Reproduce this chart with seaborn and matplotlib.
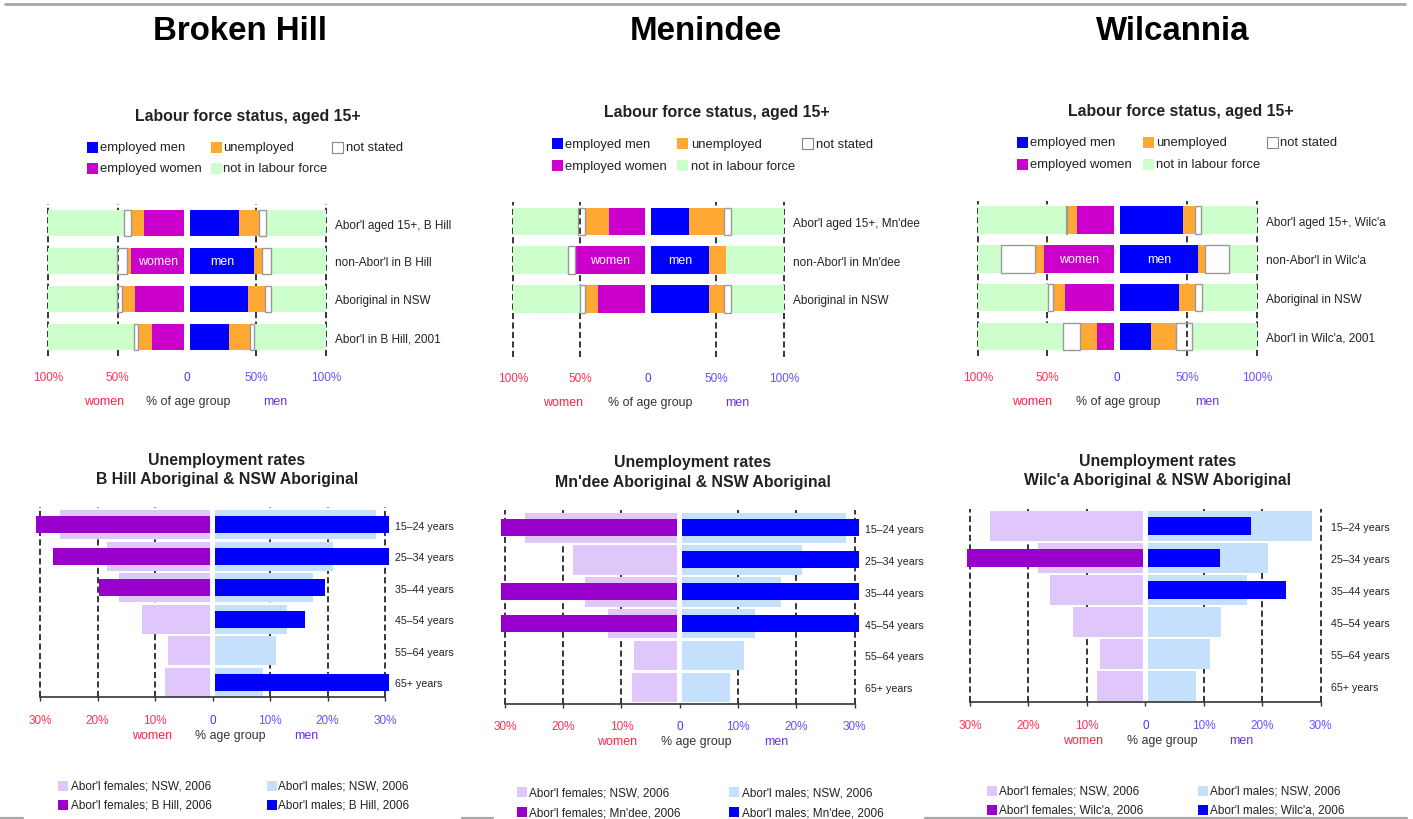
import numpy as np
import matplotlib
matplotlib.use("Agg")
import matplotlib.pyplot as plt
from matplotlib import font_manager
from matplotlib.patches import Rectangle
from matplotlib.lines import Line2D
import seaborn as sns

# ---------------- labour force status, aged 15+ (percent of each sex) ----------------
# each row: employed, unemployed, not stated, not in labour force
BH_ROWS = ["Abor'l aged 15+, B Hill", "non-Abor'l in B Hill", "Aboriginal in NSW", "Abor'l in B Hill, 2001"]
BH_MEN = [[35.5, 14.4, 5.3, 42.8], [46.3, 6.0, 6.5, 39.2], [42.2, 11.8, 4.3, 39.7], [28.5, 14.9, 2.7, 51.9]]
BH_WOMEN = [[29.3, 8.9, 4.9, 55.0], [38.1, 3.2, 6.9, 49.8], [35.7, 8.9, 3.6, 49.8], [23.5, 9.8, 2.9, 61.8]]

MN_ROWS = ["Abor'l aged 15+, Mn'dee", "non-Abor'l in Mn'dee", "Aboriginal in NSW"]
MN_MEN = [[27.9, 26.1, 5.4, 38.6], [42.9, 12.3, 0.0, 42.8], [42.9, 11.1, 5.4, 38.6]]
MN_WOMEN = [[27.2, 17.4, 4.9, 48.5], [52.2, 0.0, 4.7, 41.1], [35.3, 9.3, 3.7, 49.7]]

WC_ROWS = ["Abor'l aged 15+, Wilc'a", "non-Abor'l in Wilc'a", "Aboriginal in NSW", "Abor'l in Wilc'a, 2001"]
WC_MEN = [[45.2, 8.4, 4.5, 39.9], [55.7, 5.3, 17.2, 19.8], [42.6, 11.0, 5.0, 39.4], [22.5, 17.4, 11.5, 46.6]]
WC_WOMEN = [[26.6, 7.1, 1.0, 63.3], [50.7, 6.2, 24.4, 16.7], [35.4, 8.4, 3.5, 50.7], [12.2, 12.2, 12.7, 60.9]]

LF_TICKS = [-100, -50, 0, 50, 100]
LF_TICK_LABELS = ["100%", "50%", "0", "50%", "100%"]

# ---------------- unemployment rates by age group (percent) ----------------
AGES = ["15\u201324 years", "25\u201334 years", "35\u201344 years",
        "45\u201354 years", "55\u201364 years", "65+ years"]
NSW_F = [26.6, 18.3, 16.3, 12.3, 7.8, 8.2]
NSW_M = [28.5, 21.0, 17.4, 12.9, 11.1, 8.7]
nan = np.nan
BH_F = [30.7, 27.8, 19.7, nan, nan, nan]
BH_M = [30.7, 30.7, 19.6, 16.1, nan, 30.7]
MN_F = [30.6, nan, 30.6, 30.6, nan, nan]
MN_M = [30.8, 30.8, 30.8, 30.8, nan, nan]
WC_F = [nan, 30.6, nan, nan, nan, nan]
WC_M = [18.0, 12.8, 24.0, nan, nan, nan]

UR_TICKS = [-30, -20, -10, 0, 10, 20, 30]
UR_TICK_LABELS = ["30%", "20%", "10%", "0", "10%", "20%", "30%"]

# ---------------- styling ----------------
C_EMP_MEN = "#0000ff"
C_EMP_WOMEN = "#cc00cc"
C_UNEMP = "#ffa833"
C_NILF = "#ccffcc"
C_NS_EDGE = "#9a9a9a"
C_NSW_F = "#dfc7fb"
C_NSW_M = "#c4e0fd"
C_LOC_F = "#9900cc"
C_LOC_M = "#0000ff"
C_LEFT = "#ff3355"
C_ZERO = "#3a3aff"
C_RIGHT = "#6a50ff"
C_WOMEN_WORD = "#ff2244"
C_MEN_WORD = "#6a2ee8"

sns.set_theme(style="white")
_installed = {f.name for f in font_manager.fontManager.ttflist}
if "Liberation Sans Narrow" in _installed:
    FAMILY, K = "Liberation Sans Narrow", 1.0
elif "Liberation Sans" in _installed:
    FAMILY, K = "Liberation Sans", 0.85
else:
    FAMILY, K = "DejaVu Sans", 0.76
plt.rcParams["font.family"] = [FAMILY, "DejaVu Sans"]
plt.rcParams["text.color"] = "#222222"

W, H = 1413, 820
fig = plt.figure(figsize=(W / 100, H / 100), dpi=100)
fig.patch.set_facecolor("white")


def rect(l, t, r, b):
    return [l / W, 1 - b / H, (r - l) / W, (b - t) / H]


def ftext(x, y, s, **kw):
    kw.setdefault("ha", "center")
    kw.setdefault("va", "center")
    return fig.text(x / W, 1 - y / H, s, **kw)


def fpatch(x, y, size, face, edge=None, lw=0.8):
    fig.add_artist(Rectangle((x / W, 1 - (y + size / 2) / H), size / W, size / H,
                             transform=fig.transFigure, facecolor=face,
                             edgecolor=edge if edge else face, linewidth=lw if edge else 0))


def fline(x0, x1, y, color="#a8a8a8", lw=1.6):
    fig.add_artist(Line2D([x0 / W, x1 / W], [1 - y / H, 1 - y / H],
                          transform=fig.transFigure, color=color, linewidth=lw))


GAP = 2.0


def labour_panel(box, rows, men, women, title_xy, legend_x, legend_text_x, legend_y,
                 words_x, words_y):
    ax = fig.add_axes(rect(*box))
    ax.set_xlim(-100, 100)
    ax.set_ylim(3.5, -0.5)
    for x in (-100, -50, 50, 100):
        ax.axvline(x, color="black", lw=1.1, ls=(0, (4, 2.2)), zorder=0.5, clip_on=False)
    for side, data, emp_col in ((1, men, C_EMP_MEN), (-1, women, C_EMP_WOMEN)):
        for i, vals in enumerate(data):
            left = GAP
            cols = [emp_col, C_UNEMP, None, C_NILF]
            for j, (v, c) in enumerate(zip(vals, cols)):
                if v > 0:
                    start = left if side > 0 else -(left + v)
                    if c is None:
                        ax.barh(i, v, left=start, height=0.71, facecolor="none",
                                edgecolor=C_NS_EDGE, linewidth=1.0, zorder=2)
                    else:
                        ax.barh(i, v, left=start, height=0.71, color=c, linewidth=0, zorder=1)
                    if i == 1 and j == 0:
                        ax.text(start + v / 2, i, "men" if side > 0 else "women",
                                color="white", ha="center", va="center", fontsize=10.5 * K, zorder=3)
                left += v
    ax.set_yticks(range(len(rows)))
    ax.set_yticklabels(rows, fontsize=10 * K, color="#222222")
    ax.yaxis.tick_right()
    ax.tick_params(axis="y", left=False, right=False, labelleft=False, labelright=True,
                   length=0, pad=6.5)
    ax.set_xticks(LF_TICKS)
    ax.set_xticklabels(LF_TICK_LABELS, fontsize=10 * K)
    ax.tick_params(axis="x", bottom=False, length=0, pad=10.8)
    for lab, col in zip(ax.get_xticklabels(), [C_LEFT, C_LEFT, C_ZERO, C_RIGHT, C_RIGHT]):
        lab.set_color(col)
    sns.despine(ax=ax, left=True, bottom=True)
    ax.set_facecolor("none")

    ftext(*title_xy, "Labour force status, aged 15+", fontsize=13.5 * K, fontweight="bold")
    entries = [[("employed men", C_EMP_MEN, None), ("employed women", C_EMP_WOMEN, None)],
               [("unemployed", C_UNEMP, None), ("not in labour force", C_NILF, None)],
               [("not stated", "white", "#888888")]]
    for c, col_entries in enumerate(entries):
        for r, (lab, face, edge) in enumerate(col_entries):
            fpatch(legend_x[c], legend_y[r], 11, face, edge)
            ftext(legend_text_x[c], legend_y[r], lab, ha="left", fontsize=11 * K)
    ftext(words_x[0], words_y, "women", color=C_WOMEN_WORD, fontsize=10.5 * K)
    ftext(words_x[1], words_y, "% of age group", color="#333333", fontsize=10.5 * K)
    ftext(words_x[2], words_y, "men", color=C_MEN_WORD, fontsize=10.5 * K)


def unemployment_panel(box, ylim, loc_f, loc_m, place, title_x, title_y, words_x, words_y,
                       legend_x, legend_text_x, legend_y):
    ax = fig.add_axes(rect(*box))
    for x in (-30, -20, -10, 10, 20, 30):
        ax.axvline(x, color="black", lw=1.1, ls=(0, (4, 2.2)), zorder=0.5)
    common = dict(y=AGES, order=AGES, orient="y", ax=ax, errorbar=None,
                  saturation=1, linewidth=0)
    sns.barplot(x=-np.array(NSW_F), color=C_NSW_F, width=0.93, **common)
    sns.barplot(x=np.array(NSW_M), color=C_NSW_M, width=0.93, **common)
    sns.barplot(x=-np.array(loc_f), color=C_LOC_F, width=0.54, **common)
    sns.barplot(x=np.array(loc_m), color=C_LOC_M, width=0.54, **common)
    # white channel separating the women's and men's halves
    ax.axvspan(-0.47, 0.47, ymin=0.004, ymax=1, color="white", lw=0, zorder=3)
    ax.set_xlim(-31, 31)
    ax.set_ylim(*ylim)
    ax.set_xlabel("")
    ax.set_ylabel("")
    sns.despine(ax=ax, left=True)
    ax.spines["bottom"].set_bounds(-30, 30)
    ax.spines["bottom"].set_color("#333333")
    ax.spines["bottom"].set_linewidth(1.2)
    ax.spines["bottom"].set_zorder(5)
    ax.set_xticks(UR_TICKS)
    ax.set_xticklabels(UR_TICK_LABELS, fontsize=10 * K)
    ax.tick_params(axis="x", bottom=True, direction="out", length=3, width=1,
                   color="#333333", pad=8.8)
    for lab, col in zip(ax.get_xticklabels(), [C_LEFT] * 3 + [C_ZERO] + [C_RIGHT] * 3):
        lab.set_color(col)
    ax.yaxis.tick_right()
    ax.tick_params(axis="y", left=False, right=False, labelleft=False, labelright=True,
                   length=0, pad=3, labelsize=9 * K, labelcolor="#222222")
    ax.set_facecolor("none")

    ftext(title_x, title_y[0], "Unemployment rates", fontsize=13.5 * K, fontweight="bold")
    ftext(title_x, title_y[1], f"{place} Aboriginal & NSW Aboriginal", fontsize=13.5 * K,
          fontweight="bold")
    ftext(words_x[0], words_y, "women", color=C_WOMEN_WORD, fontsize=10.5 * K)
    ftext(words_x[1], words_y, "% age group", color="#333333", fontsize=10.5 * K)
    ftext(words_x[2], words_y, "men", color=C_MEN_WORD, fontsize=10.5 * K)
    entries = [[("Abor'l females; NSW, 2006", C_NSW_F), (f"Abor'l females; {place}, 2006", C_LOC_F)],
               [("Abor'l males; NSW, 2006", C_NSW_M), (f"Abor'l males; {place}, 2006", C_LOC_M)]]
    for c, col_entries in enumerate(entries):
        for r, (lab, face) in enumerate(col_entries):
            fpatch(legend_x[c], legend_y[r], 10, face)
            ftext(legend_text_x[c], legend_y[r], lab, ha="left", fontsize=10 * K)


# ---------------- page furniture ----------------
fline(5, 1405, 5, lw=2.0)
fline(0, 23, 819)
fline(462, 493, 819)
fline(925, 1407, 819)

for x, name in ((240, "Broken Hill"), (706, "Menindee"), (1173, "Wilcannia")):
    ftext(x, 32, name, fontsize=28 * K, fontweight="bold", color="black")

# ---------------- labour force panels ----------------
labour_panel((48.3, 205, 325.7, 357), BH_ROWS, BH_MEN, BH_WOMEN, (248, 116),
             (87, 210.7, 331.7), (100, 222.7, 345.7), (148, 169), (104, 188, 275), 401.7)
labour_panel((512.7, 203, 783.7, 358), MN_ROWS, MN_MEN, MN_WOMEN, (716.7, 112.7),
             (551.7, 676.7, 801.7), (565, 691, 815.7), (144.7, 166.7), (563, 650, 737), 402.7)
labour_panel((977.7, 201.7, 1256.7, 356.7), WC_ROWS, WC_MEN, WC_WOMEN, (1180.7, 111.7),
             (1016.7, 1142.7, 1266.7), (1030, 1156, 1280), (143.3, 165), (1032, 1118, 1207), 401.7)

# ---------------- unemployment panels ----------------
unemployment_panel((34.25, 508.3, 390.75, 698.3), (5.476, -0.556), BH_F, BH_M, "B Hill",
                   226.7, (460.7, 480), (151.7, 230, 306.7), 736,
                   (58, 266.7), (70.7, 277.7), (786.7, 805.7))
unemployment_panel((499.0, 511, 860.4, 705), (5.52, -0.56), MN_F, MN_M, "Mn'dee",
                   693, (462.7, 482.3), (617.3, 696.7, 776), 741.7,
                   (516.7, 729.3), (528.7, 741.7), (793.3, 813.3))
unemployment_panel((964.2, 510, 1326.5, 703.3), (5.51, -0.53), WC_F, WC_M, "Wilc'a",
                   1158, (461.7, 481), (1082.7, 1162.7, 1241.7), 741,
                   (986.7, 1198.3), (998.7, 1210), (791.7, 811))

fig.savefig("out.png", dpi=100, facecolor="white")
